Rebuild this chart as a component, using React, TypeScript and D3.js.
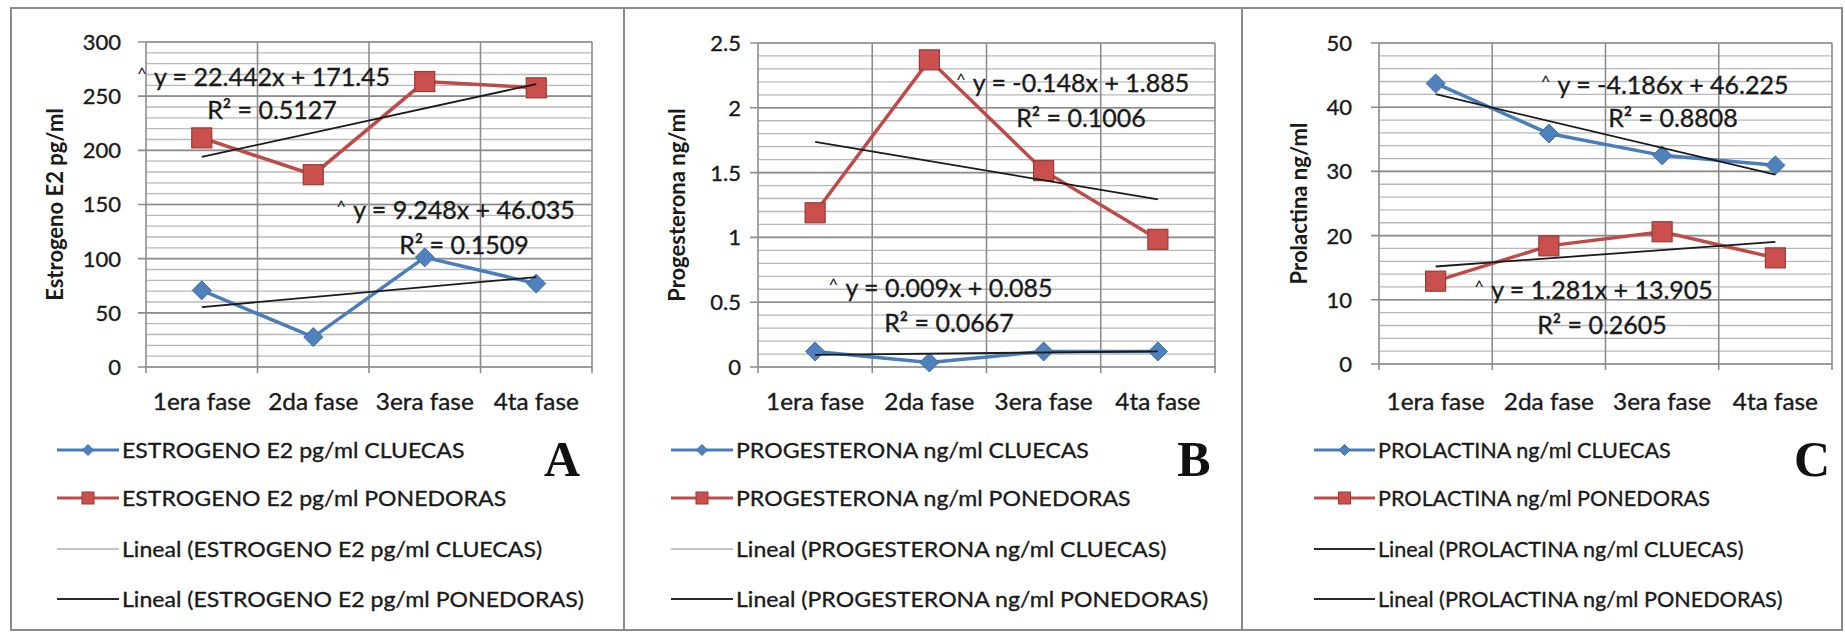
import React, { useEffect, useRef } from "react";
import * as d3 from "d3";

// ---------- data ----------
const phases = ["1era fase", "2da fase", "3era fase", "4ta fase"];

const estrogenoCluecas = [70.8, 27.6, 101.2, 77.0];
const estrogenoPonedoras = [211.5, 177.5, 263.5, 257.7];
const progesteronaCluecas = [0.12, 0.035, 0.12, 0.12];
const progesteronaPonedoras = [1.19, 2.37, 1.515, 0.985];
const prolactinaCluecas = [43.7, 35.9, 32.5, 30.94];
const prolactinaPonedoras = [12.9, 18.4, 20.6, 16.53];

// linear trend fits: [slope, intercept, R²]
const estrogenoCluecasFit = [9.248, 46.035, 0.1509];
const estrogenoPonedorasFit = [22.442, 171.45, 0.5127];
const progesteronaCluecasFit = [0.009, 0.085, 0.0667];
const progesteronaPonedorasFit = [-0.148, 1.885, 0.1006];
const prolactinaCluecasFit = [-4.186, 46.225, 0.8808];
const prolactinaPonedorasFit = [1.281, 13.905, 0.2605];

const estrogenoTicks = [0, 50, 100, 150, 200, 250, 300];
const progesteronaTicks = [0, 0.5, 1, 1.5, 2, 2.5];
const prolactinaTicks = [0, 10, 20, 30, 40, 50];

const estrogenoLegend = [
  "ESTROGENO E2 pg/ml CLUECAS",
  "ESTROGENO E2 pg/ml PONEDORAS",
  "Lineal (ESTROGENO E2 pg/ml CLUECAS)",
  "Lineal (ESTROGENO E2 pg/ml PONEDORAS)",
];
const progesteronaLegend = [
  "PROGESTERONA ng/ml CLUECAS",
  "PROGESTERONA ng/ml PONEDORAS",
  "Lineal (PROGESTERONA ng/ml CLUECAS)",
  "Lineal (PROGESTERONA ng/ml PONEDORAS)",
];
const prolactinaLegend = [
  "PROLACTINA ng/ml CLUECAS",
  "PROLACTINA ng/ml PONEDORAS",
  "Lineal (PROLACTINA ng/ml CLUECAS)",
  "Lineal (PROLACTINA ng/ml PONEDORAS)",
];

// ---------- layout / styles ----------
const FONT = "Lato, 'Open Sans', sans-serif";
const INK = "#1a1a1a";
const BLUE = "#4a7ebb";
const BLUE_FILL = "#4f81bd";
const RED = "#be4b48";
const RED_FILL = "#c9504d";

type Eq = { cx: number; y1: number; y2: number };
type Panel = {
  title: string;
  letter: string;
  ticks: number[];
  minor: number;
  cluecas: number[];
  ponedoras: number[];
  cluecasFit: number[];
  ponedorasFit: number[];
  legend: string[];
  x0: number;
  x1: number;
  yTop: number;
  yBottom: number;
  titleX: number;
  labelRight: number;
  legSym: [number, number];
  legFont: number;
  legScale: number;
  letterX: number;
  eqCluecas: Eq;
  eqPonedoras: Eq;
  legendThinFirst: boolean;
};

const panels: Panel[] = [
  {
    title: "Estrogeno E2 pg/ml",
    letter: "A",
    ticks: estrogenoTicks,
    minor: 10,
    cluecas: estrogenoCluecas,
    ponedoras: estrogenoPonedoras,
    cluecasFit: estrogenoCluecasFit,
    ponedorasFit: estrogenoPonedorasFit,
    legend: estrogenoLegend,
    x0: 146,
    x1: 592,
    yTop: 42,
    yBottom: 367,
    titleX: 55,
    labelRight: 121,
    legSym: [57, 119],
    legFont: 22,
    legScale: 1.05,
    letterX: 562,
    eqCluecas: { cx: 464, y1: 210, y2: 245 },
    eqPonedoras: { cx: 272, y1: 77, y2: 110 },
    legendThinFirst: true,
  },
  {
    title: "Progesterona ng/ml",
    letter: "B",
    ticks: progesteronaTicks,
    minor: 0.1,
    cluecas: progesteronaCluecas,
    ponedoras: progesteronaPonedoras,
    cluecasFit: progesteronaCluecasFit,
    ponedorasFit: progesteronaPonedorasFit,
    legend: progesteronaLegend,
    x0: 758,
    x1: 1215,
    yTop: 43,
    yBottom: 367,
    titleX: 677,
    labelRight: 741,
    legSym: [671, 733],
    legFont: 22,
    legScale: 1.05,
    letterX: 1194,
    eqCluecas: { cx: 949, y1: 288, y2: 323 },
    eqPonedoras: { cx: 1081, y1: 83, y2: 118 },
    legendThinFirst: true,
  },
  {
    title: "Prolactina ng/ml",
    letter: "C",
    ticks: prolactinaTicks,
    minor: 2,
    cluecas: prolactinaCluecas,
    ponedoras: prolactinaPonedoras,
    cluecasFit: prolactinaCluecasFit,
    ponedorasFit: prolactinaPonedorasFit,
    legend: prolactinaLegend,
    x0: 1379,
    x1: 1832,
    yTop: 43,
    yBottom: 364,
    titleX: 1299,
    labelRight: 1352,
    legSym: [1314, 1375],
    legFont: 21,
    legScale: 1.03,
    letterX: 1812,
    eqCluecas: { cx: 1673, y1: 85, y2: 118 },
    eqPonedoras: { cx: 1602, y1: 290, y2: 325 },
    legendThinFirst: false,
  },
];

const legendRows = [450, 498, 549, 599];

function diamond(s: number) {
  return `M0,${-s}L${s},0L0,${s}L${-s},0Z`;
}

type G = d3.Selection<SVGGElement, unknown, null, undefined>;

function label(
  g: G,
  x: number,
  y: number,
  txt: string,
  size: number,
  anchor: string,
  sx = 1
) {
  return g
    .append("text")
    .attr("transform", `translate(${x},${y}) scale(${sx},1)`)
    .attr("dy", "0.36em")
    .attr("text-anchor", anchor)
    .attr("font-family", FONT)
    .attr("font-size", size)
    .attr("fill", INK)
    .attr("stroke", INK)
    .attr("stroke-width", 0.35)
    .text(txt);
}

function drawPanel(svg: d3.Selection<SVGSVGElement, unknown, null, undefined>, p: Panel) {
  const g = svg.append("g") as G;
  const max = p.ticks[p.ticks.length - 1];
  const x = d3.scaleBand<string>().domain(phases).range([p.x0, p.x1]).padding(0);
  const cx = (i: number) => (x(phases[i]) as number) + x.bandwidth() / 2;
  const y = d3.scaleLinear().domain([0, max]).range([p.yBottom, p.yTop]);

  // minor gridlines
  const nMinor = Math.round(max / p.minor);
  g.selectAll("line.minor")
    .data(d3.range(0, nMinor + 1).map((k) => k * p.minor))
    .join("line")
    .attr("x1", p.x0)
    .attr("x2", p.x1)
    .attr("y1", (d) => y(d))
    .attr("y2", (d) => y(d))
    .attr("stroke", "#b8b8b8")
    .attr("stroke-width", 1.3);

  // major gridlines
  g.selectAll("line.major")
    .data(p.ticks)
    .join("line")
    .attr("x1", p.x0 - 8)
    .attr("x2", p.x1)
    .attr("y1", (d) => y(d))
    .attr("y2", (d) => y(d))
    .attr("stroke", "#8c8c8c")
    .attr("stroke-width", 1.6);

  // vertical gridlines at category boundaries
  const bounds = phases.map((d) => x(d) as number).concat([p.x1]);
  g.selectAll("line.vert")
    .data(bounds)
    .join("line")
    .attr("x1", (d) => d)
    .attr("x2", (d) => d)
    .attr("y1", p.yTop)
    .attr("y2", p.yBottom + 6)
    .attr("stroke", "#8c8c8c")
    .attr("stroke-width", 1.6);

  // y tick labels
  p.ticks.forEach((t) => label(g, p.labelRight, y(t), d3.format("~g")(t), 22, "end"));

  // x tick labels
  phases.forEach((ph, i) => label(g, cx(i), 402, ph, 23, "middle", 1.06));

  // axis title
  g.append("text")
    .attr("transform", `translate(${p.titleX},${(p.yTop + p.yBottom) / 2}) rotate(-90)`)
    .attr("dy", "0.36em")
    .attr("text-anchor", "middle")
    .attr("font-family", FONT)
    .attr("font-weight", "bold")
    .attr("font-size", 22)
    .attr("fill", INK)
    .text(p.title);

  const line = d3
    .line<number>()
    .x((_d, i) => cx(i))
    .y((d) => y(d));

  // series lines
  g.append("path")
    .attr("d", line(p.ponedoras) as string)
    .attr("fill", "none")
    .attr("stroke", RED)
    .attr("stroke-width", 3.5);
  g.append("path")
    .attr("d", line(p.cluecas) as string)
    .attr("fill", "none")
    .attr("stroke", BLUE)
    .attr("stroke-width", 3.5);

  // markers
  g.selectAll("rect.sq")
    .data(p.ponedoras)
    .join("rect")
    .attr("x", (_d, i) => cx(i) - 10)
    .attr("y", (d) => y(d) - 10)
    .attr("width", 20)
    .attr("height", 20)
    .attr("fill", RED_FILL)
    .attr("stroke", "#9b3a37")
    .attr("stroke-width", 1.2);
  g.selectAll("path.dia")
    .data(p.cluecas)
    .join("path")
    .attr("transform", (d, i) => `translate(${cx(i)},${y(d)})`)
    .attr("d", diamond(9.5))
    .attr("fill", BLUE_FILL)
    .attr("stroke", "#3d6ca8")
    .attr("stroke-width", 1);

  // trend lines (x = 1..4)
  const trend = (fit: number[]) => {
    const pts = [0, phases.length - 1].map((i) => [cx(i), y(fit[0] * (i + 1) + fit[1])]);
    g.append("line")
      .attr("x1", pts[0][0])
      .attr("y1", pts[0][1])
      .attr("x2", pts[1][0])
      .attr("y2", pts[1][1])
      .attr("stroke", INK)
      .attr("stroke-width", 1.8);
  };
  trend(p.cluecasFit);
  trend(p.ponedorasFit);

  // equations
  const eq = (fit: number[], pos: Eq) => {
    const t1 = label(g, pos.cx, pos.y1, `y = ${fit[0]}x + ${fit[1]}`, 25, "middle");
    const w = (t1.node() as SVGTextElement).getComputedTextLength();
    g.append("text")
      .attr("x", pos.cx - w / 2 - 7)
      .attr("y", pos.y1 + 3)
      .attr("text-anchor", "end")
      .attr("font-family", FONT)
      .attr("font-size", 17)
      .attr("fill", INK)
      .text("^");
    label(g, pos.cx, pos.y2, `R² = ${fit[2]}`, 25, "middle");
  };
  eq(p.ponedorasFit, p.eqPonedoras);
  eq(p.cluecasFit, p.eqCluecas);

  // legend
  const [lx0, lx1] = p.legSym;
  const lmid = (lx0 + lx1) / 2;
  p.legend.forEach((txt, k) => {
    const ly = legendRows[k];
    let color: string;
    let width: number;
    if (k === 0) {
      color = BLUE;
      width = 3;
    } else if (k === 1) {
      color = RED;
      width = 3;
    } else if (k === 2 && p.legendThinFirst) {
      color = "#8a8a8a";
      width = 1.2;
    } else {
      color = "#2a2a2a";
      width = 2.2;
    }
    g.append("line")
      .attr("x1", lx0)
      .attr("x2", lx1)
      .attr("y1", ly)
      .attr("y2", ly)
      .attr("stroke", color)
      .attr("stroke-width", width);
    if (k === 0) {
      g.append("path")
        .attr("transform", `translate(${lmid},${ly})`)
        .attr("d", diamond(5.5))
        .attr("fill", BLUE_FILL)
        .attr("stroke", "#3d6ca8");
    } else if (k === 1) {
      g.append("rect")
        .attr("x", lmid - 6)
        .attr("y", ly - 6)
        .attr("width", 12)
        .attr("height", 12)
        .attr("fill", RED_FILL)
        .attr("stroke", "#9b3a37");
    }
    label(g, lx1 + 3, ly, txt, p.legFont, "start", p.legScale);
  });

  // panel letter
  g.append("text")
    .attr("x", p.letterX)
    .attr("y", 476)
    .attr("text-anchor", "middle")
    .attr("font-family", "'Liberation Serif', 'Times New Roman', serif")
    .attr("font-weight", "bold")
    .attr("font-size", 50)
    .attr("fill", "#111")
    .text(p.letter);
}

export default function App() {
  const ref = useRef<SVGSVGElement>(null);
  useEffect(() => {
    document.body.style.margin = "0";
    const svg = d3.select(ref.current as SVGSVGElement);
    svg.selectAll("*").remove();
    svg.append("rect").attr("width", 1845).attr("height", 633).attr("fill", "#fff");
    // frame
    svg
      .append("rect")
      .attr("x", 11)
      .attr("y", 8)
      .attr("width", 1831)
      .attr("height", 622)
      .attr("fill", "none")
      .attr("stroke", "#8a8a8a")
      .attr("stroke-width", 2);
    [624, 1242].forEach((xx) =>
      svg
        .append("line")
        .attr("x1", xx)
        .attr("x2", xx)
        .attr("y1", 8)
        .attr("y2", 630)
        .attr("stroke", "#8a8a8a")
        .attr("stroke-width", 2)
    );
    panels.forEach((p) => drawPanel(svg, p));
  }, []);
  return <svg ref={ref} width={1845} height={633} style={{ display: "block" }} />;
}
